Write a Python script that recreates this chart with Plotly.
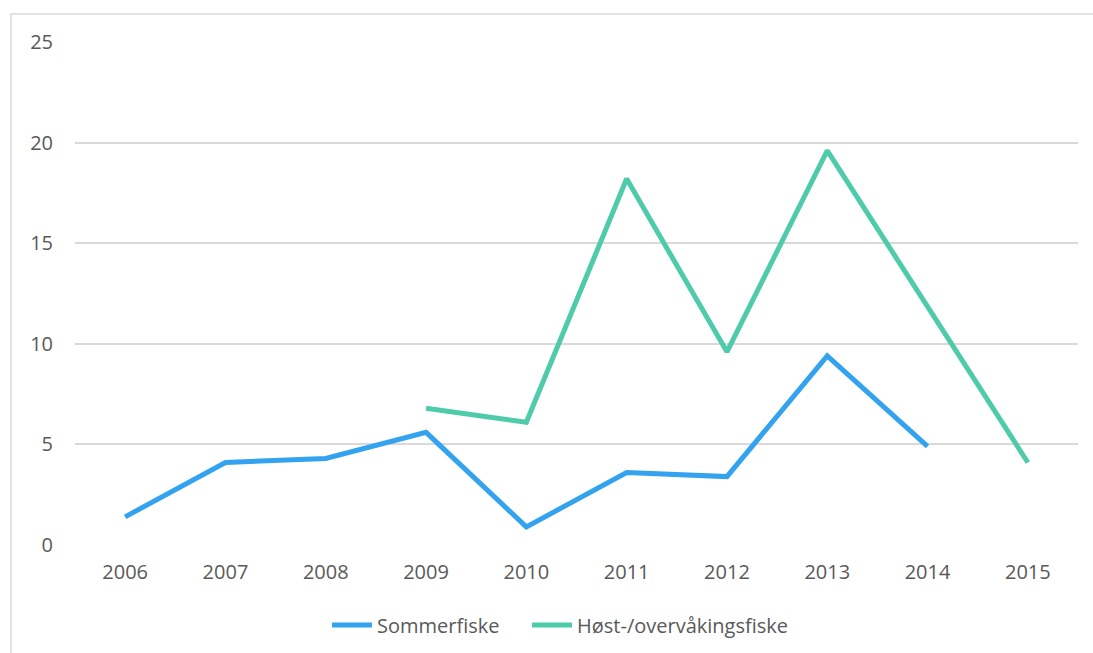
import plotly.graph_objects as go

years = ["2006", "2007", "2008", "2009", "2010", "2011", "2012", "2013", "2014", "2015"]
sommerfiske = [1.4, 4.1, 4.3, 5.6, 0.9, 3.6, 3.4, 9.4, 4.9, None]
host_overvaking = [None, None, None, 6.8, 6.1, 18.2, 9.6, 19.6, 11.8, 4.1]
y_ticks = [0, 5, 10, 15, 20, 25]

FONT = "'Open Sans', 'Noto Sans', sans-serif"
TXT = "#595959"

fig = go.Figure()
fig.add_trace(go.Scatter(x=years, y=sommerfiske, name="Sommerfiske", mode="lines",
                         line=dict(color="#33A3EF", width=5), connectgaps=False,
                         legend="legend"))
fig.add_trace(go.Scatter(x=years, y=host_overvaking, name="Høst-/overvåkingsfiske", mode="lines",
                         line=dict(color="#4ECBAB", width=5), connectgaps=False,
                         legend="legend2"))

leg_common = dict(orientation="h", xanchor="left", y=-0.159, yanchor="middle",
                  font=dict(family=FONT, size=20, color=TXT), itemwidth=40,
                  bgcolor="rgba(0,0,0,0)")

fig.update_layout(
    width=1093, height=653,
    margin=dict(l=75, r=15, t=42, b=108, autoexpand=False),
    paper_bgcolor="white", plot_bgcolor="white",
    font=dict(family=FONT, size=20, color=TXT),
    showlegend=True,
    legend=dict(x=0.2512, **leg_common),
    legend2=dict(x=0.4507, **leg_common),
    xaxis=dict(type="category", range=[-0.5, 9.5], showgrid=False, showline=False,
               zeroline=False, ticks="", tickfont=dict(size=20, color=TXT),
               ticklabelstandoff=13),
    yaxis=dict(range=[0, 25], tickvals=y_ticks, showgrid=True, gridcolor="#D9D9D9",
               gridwidth=1.5, zeroline=False, showline=False, ticks="",
               tickfont=dict(size=20, color=TXT), ticklabelstandoff=21),
    shapes=[dict(type="rect", xref="paper", yref="paper",
                 x0=-0.0638, x1=1.2, y0=-0.4, y1=1.0557,
                 line=dict(color="#D9D9D9", width=1.5), fillcolor="rgba(0,0,0,0)",
                 layer="below")],
)

fig.write_html("out.html")
